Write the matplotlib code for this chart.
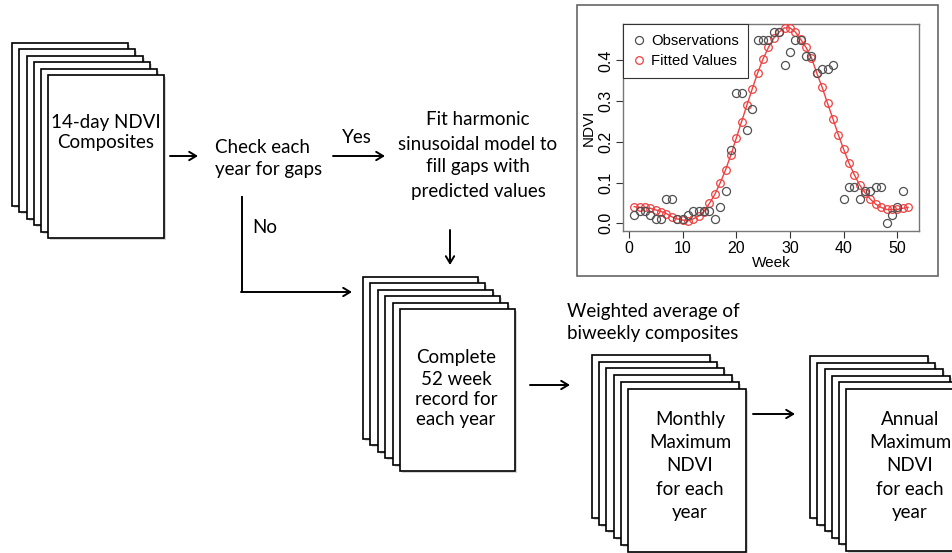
import numpy as np
import matplotlib
matplotlib.use("Agg")
import matplotlib.pyplot as plt
from matplotlib.patches import Rectangle

# dados do gráfico inserido (NDVI semanal)
semanas = np.arange(1, 53)
obs_semanas = [1, 2, 3, 4, 5, 6, 7, 8, 9, 10, 11, 12, 13, 14, 15, 16, 17, 18, 19, 20,
               21, 22, 23, 24, 25, 26, 27, 28, 29, 30, 31, 32, 33, 34, 35, 36, 37, 38,
               40, 41, 42, 43, 44, 45, 46, 47, 48, 49, 50, 51]
obs_ndvi = [0.02, 0.03, 0.03, 0.02, 0.01, 0.01, 0.06, 0.06, 0.01, 0.01, 0.02, 0.03, 0.03,
            0.03, 0.03, 0.01, 0.04, 0.08, 0.18, 0.32, 0.32, 0.23, 0.28, 0.45, 0.45, 0.45,
            0.47, 0.47, 0.39, 0.42, 0.45, 0.45, 0.41, 0.41, 0.37, 0.38, 0.38, 0.39,
            0.06, 0.09, 0.09, 0.06, 0.08, 0.08, 0.09, 0.09, 0.00, 0.02, 0.04, 0.08]
ajustado = [0.041, 0.039, 0.039, 0.037, 0.033, 0.029, 0.024, 0.016, 0.011, 0.008, 0.006,
            0.011, 0.018, 0.029, 0.049, 0.071, 0.099, 0.131, 0.168, 0.209, 0.250, 0.291,
            0.331, 0.370, 0.404, 0.432, 0.455, 0.470, 0.480, 0.480, 0.470, 0.452, 0.432,
            0.407, 0.369, 0.334, 0.295, 0.257, 0.218, 0.182, 0.148, 0.119, 0.094, 0.075,
            0.059, 0.047, 0.039, 0.034, 0.034, 0.034, 0.037, 0.039]
x_ticks = [0, 10, 20, 30, 40, 50]
y_ticks = [0.0, 0.1, 0.2, 0.3, 0.4]

# textos do fluxograma
txt_composites = ["14-day NDVI", "Composites"]
txt_check = ["Check each", "year for gaps"]
txt_fit = ["Fit harmonic", "sinusoidal model to", "fill gaps with", "predicted values"]
txt_complete = ["Complete", "52 week", "record for", "each year"]
txt_weighted = ["Weighted average of", "biweekly composites"]
txt_monthly = ["Monthly", "Maximum", "NDVI", "for each", "year"]
txt_annual = ["Annual", "Maximum", "NDVI", "for each", "year"]

W, H = 953, 553
fig = plt.figure(figsize=(W / 100, H / 100), dpi=100)
fig.patch.set_facecolor("white")

# eixo de fundo em pixels
ax = fig.add_axes([0, 0, 1, 1])
ax.set_xlim(0, W)
ax.set_ylim(H, 0)
ax.axis("off")

fonte = "Lato"
fs = 13.5


def pilha(x0, y0, w, h, dx=7.3, dy=6.5, n=6):
    for i in range(n):
        x = x0 + i * dx
        y = y0 + i * dy
        ax.add_patch(Rectangle((x + 2, y + 2), w, h, facecolor="#bbbbbb",
                               edgecolor="none", alpha=0.6))
        ax.add_patch(Rectangle((x, y), w, h, facecolor="white",
                               edgecolor="black", lw=1.2))


def linhas(xc, bases, textos, ha="center"):
    for b, t in zip(bases, textos):
        ax.text(xc, b, t, ha=ha, va="baseline", fontsize=fs, family=fonte)


def seta(x1, y1, x2, y2):
    ax.annotate("", xy=(x2, y2), xytext=(x1, y1),
                arrowprops=dict(arrowstyle="->,head_length=0.5,head_width=0.3",
                                lw=1.4, color="black", shrinkA=0, shrinkB=0))


pilha(12, 42.7, 116, 163)
linhas(106, [128.3, 147.7], txt_composites)
seta(170, 156, 198, 156)

linhas(215, [153.3, 175], txt_check, ha="left")
ax.text(356.7, 143.3, "Yes", ha="center", va="baseline", fontsize=fs, family=fonte)
seta(333, 156, 385, 156)
linhas(478, [125, 150, 172, 196.7], txt_fit)
seta(450, 230, 450, 265)

ax.text(252, 233.3, "No", ha="left", va="baseline", fontsize=fs, family=fonte)
ax.plot([241.7, 241.7], [197, 292], color="black", lw=1.4)
seta(241, 292, 352, 292)

pilha(362.7, 276.7, 115, 162, dx=7.47)
linhas(456, [363.3, 385, 405, 425], txt_complete)
seta(530, 385, 570, 385)

linhas(653, [316.7, 339.3], txt_weighted)
pilha(591.7, 355, 118, 163, dy=6.7)
linhas(690, [425, 448, 471, 495, 518], txt_monthly)
seta(753, 414, 795, 414)

pilha(810, 356, 118, 162)
linhas(910, [425, 448, 471, 495, 518], txt_annual)

# moldura do gráfico inserido
ax.add_patch(Rectangle((577.5, 5), 360.5, 271, facecolor="white",
                       edgecolor="#666666", lw=1.2))

# gráfico inserido
ax2 = fig.add_axes([623.3 / W, 1 - 231 / H, (919 - 623.3) / W, (231 - 24.3) / H])
pf = "Liberation Sans"
ax2.plot(semanas, ajustado, color="#f04040", lw=1.0, zorder=2)
ax2.plot(semanas, ajustado, "o", mfc="none", mec="#f04040", ms=5.5, mew=0.9,
         label="Fitted Values", zorder=3, clip_on=True)
ax2.plot(obs_semanas, obs_ndvi, "o", mfc="none", mec="#505050", ms=5.8, mew=0.9,
         label="Observations", zorder=4)
ax2.set_xlim(-1.04, 54.04)
ax2.set_ylim(-0.0188, 0.4888)
ax2.set_xticks(x_ticks)
ax2.set_yticks(y_ticks)
ax2.set_xticklabels([str(v) for v in x_ticks], family=pf, fontsize=11.5)
ax2.set_yticklabels(["%.1f" % v for v in y_ticks], family=pf, fontsize=11.5,
                    rotation=90, va="center")
ax2.tick_params(direction="out", length=5, width=0.8, color="#333333", pad=2)
for s in ax2.spines.values():
    s.set_color("#777777")
    s.set_linewidth(1.0)
ax2.set_xlabel("Week", family=pf, fontsize=11, labelpad=0)
ax2.set_ylabel("NDVI", family=pf, fontsize=11, labelpad=2)

h, l = ax2.get_legend_handles_labels()
leg = ax2.legend(h[::-1], l[::-1], loc="upper left", borderaxespad=0,
                 fancybox=False, edgecolor="#333333", framealpha=1,
                 prop={"family": pf, "size": 10.7}, handlelength=0.8,
                 handletextpad=0.4, borderpad=0.65, labelspacing=0.4)
leg.get_frame().set_linewidth(0.8)

fig.savefig("out.png", dpi=100)
